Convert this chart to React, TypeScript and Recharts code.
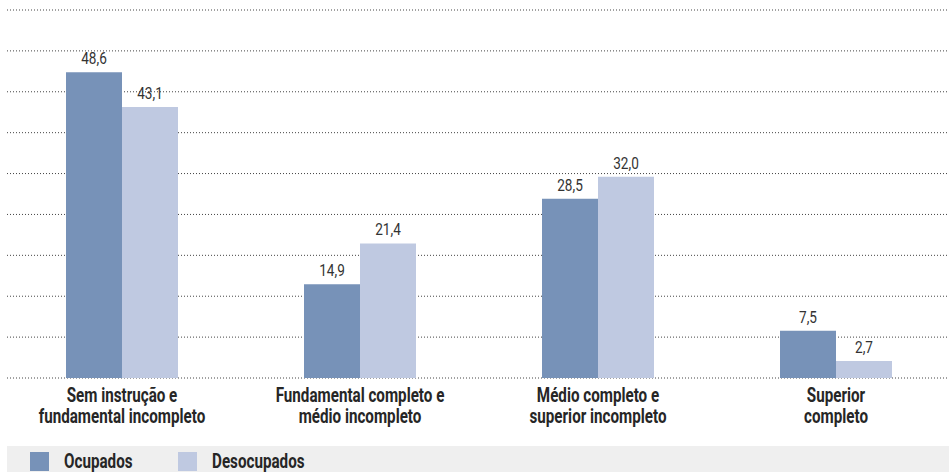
import { BarChart, Bar, XAxis, YAxis, CartesianGrid, Legend, LabelList } from "recharts";

const categories = [
  ["Sem instrução e", "fundamental incompleto"],
  ["Fundamental completo e", "médio incompleto"],
  ["Médio completo e", "superior incompleto"],
  ["Superior", "completo"],
];
const ocupados = [48.6, 14.9, 28.5, 7.5];
const desocupados = [43.1, 21.4, 32.0, 2.7];
const yTicks = [0, 6.5, 13, 19.5, 26, 32.5, 39, 45.5, 52, 58.5];

const COLOR_OC = "#7792b8";
const COLOR_DES = "#bfc9e1";
const FONT = "Roboto, 'DejaVu Sans Condensed', sans-serif";
const SQUEEZE = 0.76;

const data = categories.map((c, i) => ({
  name: c.join("\n"),
  Ocupados: ocupados[i],
  Desocupados: desocupados[i],
}));

const fmt = (v: any) => Number(v).toFixed(1).replace(".", ",");

function CategoryTick({ x, y, payload }: any) {
  const lines = String(payload.value).split("\n");
  return (
    <g transform={`translate(${x},${y}) scale(${SQUEEZE},1)`}>
      <text x={0} y={0} textAnchor="middle" fill="#262626" fontFamily={FONT} fontWeight="bold" fontSize={20}>
        {lines.map((l, i) => (
          <tspan key={i} x={0} dy={i === 0 ? 15.5 : 21.5}>
            {l}
          </tspan>
        ))}
      </text>
    </g>
  );
}

function ValueLabel({ x, y, width, value }: any) {
  const cx = x + width / 2;
  return (
    <g transform={`translate(${cx},${y - 8}) scale(0.8,1)`}>
      <text x={0} y={0} textAnchor="middle" fill="#333" fontFamily={FONT} fontSize={17}>
        {fmt(value)}
      </text>
    </g>
  );
}

function LegendBox() {
  const items = [
    { label: "Ocupados", color: COLOR_OC, width: 148 },
    { label: "Desocupados", color: COLOR_DES, width: 140 },
  ];
  return (
    <div style={{ background: "#efefef", height: 26, display: "flex", alignItems: "center", paddingLeft: 23 }}>
      {items.map((it) => (
        <div key={it.label} style={{ display: "flex", alignItems: "center", width: it.width, flexShrink: 0 }}>
          <span style={{ width: 19, height: 19, flexShrink: 0, background: it.color, display: "inline-block", marginTop: 4 }} />
          <span
            style={{
              marginLeft: 15,
              fontFamily: FONT,
              fontWeight: "bold",
              fontSize: 20,
              color: "#262626",
              marginTop: 4,
              display: "inline-block",
              transform: `scaleX(${SQUEEZE})`,
              transformOrigin: "left center",
              whiteSpace: "nowrap",
            }}
          >
            {it.label}
          </span>
        </div>
      ))}
    </div>
  );
}

export default function App() {
  return (
    <div style={{ position: "absolute", left: 7, top: 8 }}>
      <BarChart width={942} height={464} data={data} margin={{ top: 2, right: 0, left: 0, bottom: 0 }} barGap={0} barSize={56}>
        <CartesianGrid vertical={false} stroke="#444" strokeDasharray="1 2" />
        <XAxis
          dataKey="name"
          axisLine={false}
          tickLine={false}
          height={68}
          interval={0}
          padding={{ left: -4, right: -6 }}
          tick={<CategoryTick />}
        />
        <YAxis hide domain={[0, 58.5]} ticks={yTicks} />
        <Legend verticalAlign="bottom" content={<LegendBox />} wrapperStyle={{ left: 0, width: 942, bottom: 0 }} />
        <Bar dataKey="Ocupados" fill={COLOR_OC} isAnimationActive={false}>
          <LabelList dataKey="Ocupados" content={<ValueLabel />} />
        </Bar>
        <Bar dataKey="Desocupados" fill={COLOR_DES} isAnimationActive={false}>
          <LabelList dataKey="Desocupados" content={<ValueLabel />} />
        </Bar>
      </BarChart>
    </div>
  );
}
